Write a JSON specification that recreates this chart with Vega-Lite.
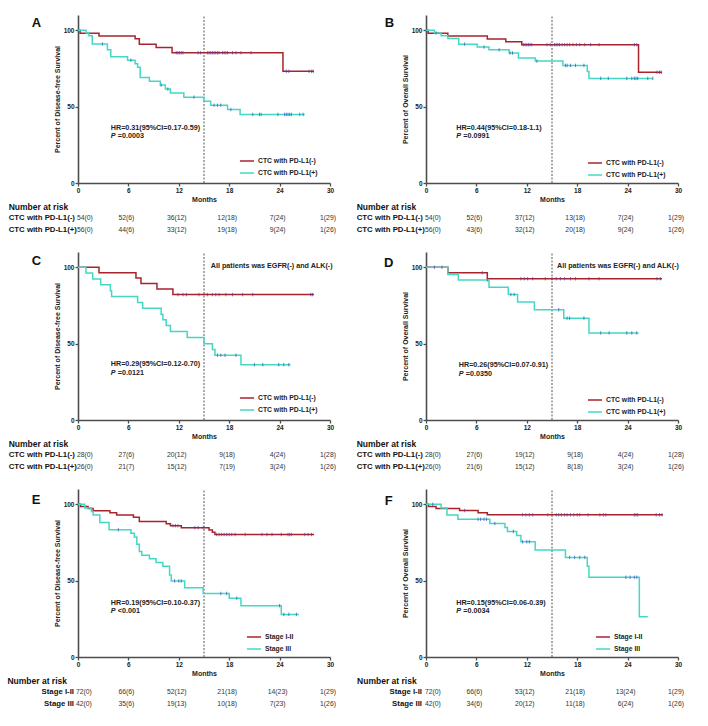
{
"$schema": "https://vega.github.io/schema/vega-lite/v6.json",
"background": "white",
"padding": {"left": 7, "top": 14, "right": 0, "bottom": 0},
"datasets": {
"curves": [
{"p":"A","g":"CTC with PD-L1(-)","t":0,"s":100},{"p":"A","g":"CTC with PD-L1(-)","t":0.25,"s":98.1},{"p":"A","g":"CTC with PD-L1(-)","t":2.5,"s":96.3},{"p":"A","g":"CTC with PD-L1(-)","t":6.8,"s":94.4},{"p":"A","g":"CTC with PD-L1(-)","t":7.3,"s":90.8},{"p":"A","g":"CTC with PD-L1(-)","t":9.3,"s":88.8},{"p":"A","g":"CTC with PD-L1(-)","t":11.2,"s":85.3},{"p":"A","g":"CTC with PD-L1(-)","t":24.4,"s":73.1},{"p":"A","g":"CTC with PD-L1(-)","t":28.1,"s":73.1},
{"p":"A","g":"CTC with PD-L1(+)","t":0,"s":100},{"p":"A","g":"CTC with PD-L1(+)","t":0.95,"s":98.2},{"p":"A","g":"CTC with PD-L1(+)","t":1.3,"s":96.4},{"p":"A","g":"CTC with PD-L1(+)","t":1.7,"s":91.0},{"p":"A","g":"CTC with PD-L1(+)","t":3.5,"s":87.3},{"p":"A","g":"CTC with PD-L1(+)","t":3.9,"s":82.7},{"p":"A","g":"CTC with PD-L1(+)","t":5.9,"s":80.4},{"p":"A","g":"CTC with PD-L1(+)","t":6.8,"s":78.1},{"p":"A","g":"CTC with PD-L1(+)","t":7.1,"s":75.8},{"p":"A","g":"CTC with PD-L1(+)","t":7.4,"s":69.0},{"p":"A","g":"CTC with PD-L1(+)","t":8.5,"s":66.7},{"p":"A","g":"CTC with PD-L1(+)","t":9.8,"s":64.1},{"p":"A","g":"CTC with PD-L1(+)","t":10.4,"s":61.5},{"p":"A","g":"CTC with PD-L1(+)","t":11.0,"s":59.0},{"p":"A","g":"CTC with PD-L1(+)","t":12.6,"s":56.2},{"p":"A","g":"CTC with PD-L1(+)","t":15.0,"s":53.5},{"p":"A","g":"CTC with PD-L1(+)","t":15.8,"s":50.9},{"p":"A","g":"CTC with PD-L1(+)","t":17.8,"s":48.1},{"p":"A","g":"CTC with PD-L1(+)","t":19.3,"s":44.9},{"p":"A","g":"CTC with PD-L1(+)","t":27.0,"s":44.9},
{"p":"B","g":"CTC with PD-L1(-)","t":0,"s":100},{"p":"B","g":"CTC with PD-L1(-)","t":0.25,"s":98.1},{"p":"B","g":"CTC with PD-L1(-)","t":2.6,"s":96.2},{"p":"B","g":"CTC with PD-L1(-)","t":7.3,"s":94.3},{"p":"B","g":"CTC with PD-L1(-)","t":9.5,"s":92.5},{"p":"B","g":"CTC with PD-L1(-)","t":11.4,"s":90.6},{"p":"B","g":"CTC with PD-L1(-)","t":25.3,"s":72.5},{"p":"B","g":"CTC with PD-L1(-)","t":28.1,"s":72.5},
{"p":"B","g":"CTC with PD-L1(+)","t":0,"s":100},{"p":"B","g":"CTC with PD-L1(+)","t":1.0,"s":98.2},{"p":"B","g":"CTC with PD-L1(+)","t":1.8,"s":96.4},{"p":"B","g":"CTC with PD-L1(+)","t":2.6,"s":94.6},{"p":"B","g":"CTC with PD-L1(+)","t":3.9,"s":90.9},{"p":"B","g":"CTC with PD-L1(+)","t":6.1,"s":89.0},{"p":"B","g":"CTC with PD-L1(+)","t":7.5,"s":87.2},{"p":"B","g":"CTC with PD-L1(+)","t":9.9,"s":85.1},{"p":"B","g":"CTC with PD-L1(+)","t":11.0,"s":81.8},{"p":"B","g":"CTC with PD-L1(+)","t":13.0,"s":79.8},{"p":"B","g":"CTC with PD-L1(+)","t":16.3,"s":77.0},{"p":"B","g":"CTC with PD-L1(+)","t":19.2,"s":73.0},{"p":"B","g":"CTC with PD-L1(+)","t":19.4,"s":68.5},{"p":"B","g":"CTC with PD-L1(+)","t":27.0,"s":68.5},
{"p":"C","g":"CTC with PD-L1(-)","t":0,"s":100},{"p":"C","g":"CTC with PD-L1(-)","t":2.5,"s":96.4},{"p":"C","g":"CTC with PD-L1(-)","t":6.9,"s":92.9},{"p":"C","g":"CTC with PD-L1(-)","t":7.5,"s":89.3},{"p":"C","g":"CTC with PD-L1(-)","t":9.4,"s":85.7},{"p":"C","g":"CTC with PD-L1(-)","t":11.3,"s":82.1},{"p":"C","g":"CTC with PD-L1(-)","t":28.1,"s":82.1},
{"p":"C","g":"CTC with PD-L1(+)","t":0,"s":100},{"p":"C","g":"CTC with PD-L1(+)","t":0.95,"s":96.2},{"p":"C","g":"CTC with PD-L1(+)","t":1.75,"s":92.3},{"p":"C","g":"CTC with PD-L1(+)","t":2.7,"s":88.5},{"p":"C","g":"CTC with PD-L1(+)","t":3.85,"s":84.6},{"p":"C","g":"CTC with PD-L1(+)","t":4.0,"s":80.8},{"p":"C","g":"CTC with PD-L1(+)","t":7.1,"s":76.9},{"p":"C","g":"CTC with PD-L1(+)","t":7.7,"s":73.1},{"p":"C","g":"CTC with PD-L1(+)","t":9.9,"s":69.2},{"p":"C","g":"CTC with PD-L1(+)","t":10.1,"s":65.6},{"p":"C","g":"CTC with PD-L1(+)","t":10.5,"s":61.8},{"p":"C","g":"CTC with PD-L1(+)","t":11.0,"s":57.9},{"p":"C","g":"CTC with PD-L1(+)","t":13.0,"s":54.1},{"p":"C","g":"CTC with PD-L1(+)","t":15.0,"s":50.0},{"p":"C","g":"CTC with PD-L1(+)","t":16.0,"s":46.1},{"p":"C","g":"CTC with PD-L1(+)","t":16.3,"s":42.4},{"p":"C","g":"CTC with PD-L1(+)","t":19.4,"s":36.2},{"p":"C","g":"CTC with PD-L1(+)","t":25.3,"s":36.2},
{"p":"D","g":"CTC with PD-L1(-)","t":0,"s":100},{"p":"D","g":"CTC with PD-L1(-)","t":2.6,"s":96.4},{"p":"D","g":"CTC with PD-L1(-)","t":7.3,"s":92.5},{"p":"D","g":"CTC with PD-L1(-)","t":28.1,"s":92.5},
{"p":"D","g":"CTC with PD-L1(+)","t":0,"s":100},{"p":"D","g":"CTC with PD-L1(+)","t":2.6,"s":95.2},{"p":"D","g":"CTC with PD-L1(+)","t":3.85,"s":91.7},{"p":"D","g":"CTC with PD-L1(+)","t":7.5,"s":87.0},{"p":"D","g":"CTC with PD-L1(+)","t":9.8,"s":82.2},{"p":"D","g":"CTC with PD-L1(+)","t":10.9,"s":77.2},{"p":"D","g":"CTC with PD-L1(+)","t":12.9,"s":72.2},{"p":"D","g":"CTC with PD-L1(+)","t":16.4,"s":66.7},{"p":"D","g":"CTC with PD-L1(+)","t":19.4,"s":57.0},{"p":"D","g":"CTC with PD-L1(+)","t":25.3,"s":57.0},
{"p":"E","g":"Stage I-II","t":0,"s":100},{"p":"E","g":"Stage I-II","t":0.3,"s":98.6},{"p":"E","g":"Stage I-II","t":1.2,"s":97.2},{"p":"E","g":"Stage I-II","t":1.8,"s":95.8},{"p":"E","g":"Stage I-II","t":3.8,"s":94.4},{"p":"E","g":"Stage I-II","t":4.6,"s":92.9},{"p":"E","g":"Stage I-II","t":6.6,"s":91.5},{"p":"E","g":"Stage I-II","t":7.3,"s":88.7},{"p":"E","g":"Stage I-II","t":10.5,"s":87.3},{"p":"E","g":"Stage I-II","t":11.0,"s":86.0},{"p":"E","g":"Stage I-II","t":12.3,"s":84.7},{"p":"E","g":"Stage I-II","t":15.6,"s":83.2},{"p":"E","g":"Stage I-II","t":16.0,"s":81.7},{"p":"E","g":"Stage I-II","t":16.3,"s":80.2},{"p":"E","g":"Stage I-II","t":28.1,"s":80.2},
{"p":"E","g":"Stage III","t":0,"s":100},{"p":"E","g":"Stage III","t":0.8,"s":97.6},{"p":"E","g":"Stage III","t":1.6,"s":95.2},{"p":"E","g":"Stage III","t":1.8,"s":92.9},{"p":"E","g":"Stage III","t":2.6,"s":88.1},{"p":"E","g":"Stage III","t":3.7,"s":83.3},{"p":"E","g":"Stage III","t":6.3,"s":81.0},{"p":"E","g":"Stage III","t":6.7,"s":78.6},{"p":"E","g":"Stage III","t":7.0,"s":73.8},{"p":"E","g":"Stage III","t":7.3,"s":69.0},{"p":"E","g":"Stage III","t":7.6,"s":66.7},{"p":"E","g":"Stage III","t":8.5,"s":64.3},{"p":"E","g":"Stage III","t":9.3,"s":61.9},{"p":"E","g":"Stage III","t":10.1,"s":59.5},{"p":"E","g":"Stage III","t":10.9,"s":53.7},{"p":"E","g":"Stage III","t":11.1,"s":49.8},{"p":"E","g":"Stage III","t":12.7,"s":45.4},{"p":"E","g":"Stage III","t":14.9,"s":41.6},{"p":"E","g":"Stage III","t":18.0,"s":38.5},{"p":"E","g":"Stage III","t":19.4,"s":33.6},{"p":"E","g":"Stage III","t":24.2,"s":27.9},{"p":"E","g":"Stage III","t":26.3,"s":27.9},
{"p":"F","g":"Stage I-II","t":0,"s":100},{"p":"F","g":"Stage I-II","t":0.3,"s":98.6},{"p":"F","g":"Stage I-II","t":1.2,"s":97.2},{"p":"F","g":"Stage I-II","t":4.0,"s":95.9},{"p":"F","g":"Stage I-II","t":6.2,"s":94.5},{"p":"F","g":"Stage I-II","t":7.3,"s":93.1},{"p":"F","g":"Stage I-II","t":28.2,"s":93.1},
{"p":"F","g":"Stage III","t":0,"s":100},{"p":"F","g":"Stage III","t":1.8,"s":97.6},{"p":"F","g":"Stage III","t":2.5,"s":92.9},{"p":"F","g":"Stage III","t":3.8,"s":90.2},{"p":"F","g":"Stage III","t":7.6,"s":87.4},{"p":"F","g":"Stage III","t":9.4,"s":84.8},{"p":"F","g":"Stage III","t":9.7,"s":82.2},{"p":"F","g":"Stage III","t":10.8,"s":79.5},{"p":"F","g":"Stage III","t":11.3,"s":75.5},{"p":"F","g":"Stage III","t":13.0,"s":70.0},{"p":"F","g":"Stage III","t":16.6,"s":65.2},{"p":"F","g":"Stage III","t":19.2,"s":59.5},{"p":"F","g":"Stage III","t":19.4,"s":52.2},{"p":"F","g":"Stage III","t":25.4,"s":26.4},{"p":"F","g":"Stage III","t":26.4,"s":26.4}
],
"censors": [
{"p":"A","g":"CTC with PD-L1(-)","t":11.7,"s":85.3},{"p":"A","g":"CTC with PD-L1(-)","t":11.9,"s":85.3},{"p":"A","g":"CTC with PD-L1(-)","t":12.1,"s":85.3},{"p":"A","g":"CTC with PD-L1(-)","t":12.3,"s":85.3},{"p":"A","g":"CTC with PD-L1(-)","t":12.5,"s":85.3},{"p":"A","g":"CTC with PD-L1(-)","t":14.3,"s":85.3},{"p":"A","g":"CTC with PD-L1(-)","t":14.6,"s":85.3},{"p":"A","g":"CTC with PD-L1(-)","t":15.4,"s":85.3},{"p":"A","g":"CTC with PD-L1(-)","t":15.6,"s":85.3},{"p":"A","g":"CTC with PD-L1(-)","t":15.8,"s":85.3},{"p":"A","g":"CTC with PD-L1(-)","t":16.0,"s":85.3},{"p":"A","g":"CTC with PD-L1(-)","t":16.2,"s":85.3},{"p":"A","g":"CTC with PD-L1(-)","t":16.4,"s":85.3},{"p":"A","g":"CTC with PD-L1(-)","t":16.6,"s":85.3},{"p":"A","g":"CTC with PD-L1(-)","t":16.8,"s":85.3},{"p":"A","g":"CTC with PD-L1(-)","t":17.2,"s":85.3},{"p":"A","g":"CTC with PD-L1(-)","t":17.4,"s":85.3},{"p":"A","g":"CTC with PD-L1(-)","t":17.6,"s":85.3},{"p":"A","g":"CTC with PD-L1(-)","t":17.8,"s":85.3},{"p":"A","g":"CTC with PD-L1(-)","t":18.4,"s":85.3},{"p":"A","g":"CTC with PD-L1(-)","t":18.8,"s":85.3},{"p":"A","g":"CTC with PD-L1(-)","t":19.4,"s":85.3},{"p":"A","g":"CTC with PD-L1(-)","t":20.6,"s":85.3},{"p":"A","g":"CTC with PD-L1(-)","t":24.8,"s":73.1},{"p":"A","g":"CTC with PD-L1(-)","t":25.1,"s":73.1},{"p":"A","g":"CTC with PD-L1(-)","t":27.5,"s":73.1},{"p":"A","g":"CTC with PD-L1(-)","t":27.8,"s":73.1},{"p":"A","g":"CTC with PD-L1(-)","t":28.0,"s":73.1},
{"p":"A","g":"CTC with PD-L1(+)","t":2.9,"s":91.0},{"p":"A","g":"CTC with PD-L1(+)","t":6.3,"s":80.4},{"p":"A","g":"CTC with PD-L1(+)","t":9.9,"s":64.1},{"p":"A","g":"CTC with PD-L1(+)","t":10.7,"s":61.5},{"p":"A","g":"CTC with PD-L1(+)","t":13.8,"s":56.2},{"p":"A","g":"CTC with PD-L1(+)","t":16.2,"s":50.9},{"p":"A","g":"CTC with PD-L1(+)","t":16.6,"s":50.9},{"p":"A","g":"CTC with PD-L1(+)","t":17.0,"s":50.9},{"p":"A","g":"CTC with PD-L1(+)","t":18.2,"s":48.1},{"p":"A","g":"CTC with PD-L1(+)","t":20.8,"s":44.9},{"p":"A","g":"CTC with PD-L1(+)","t":21.6,"s":44.9},{"p":"A","g":"CTC with PD-L1(+)","t":21.8,"s":44.9},{"p":"A","g":"CTC with PD-L1(+)","t":23.8,"s":44.9},{"p":"A","g":"CTC with PD-L1(+)","t":24.6,"s":44.9},{"p":"A","g":"CTC with PD-L1(+)","t":24.8,"s":44.9},{"p":"A","g":"CTC with PD-L1(+)","t":25.0,"s":44.9},{"p":"A","g":"CTC with PD-L1(+)","t":25.2,"s":44.9},{"p":"A","g":"CTC with PD-L1(+)","t":25.4,"s":44.9},{"p":"A","g":"CTC with PD-L1(+)","t":26.4,"s":44.9},{"p":"A","g":"CTC with PD-L1(+)","t":26.8,"s":44.9},
{"p":"B","g":"CTC with PD-L1(-)","t":11.6,"s":90.6},{"p":"B","g":"CTC with PD-L1(-)","t":11.8,"s":90.6},{"p":"B","g":"CTC with PD-L1(-)","t":12.0,"s":90.6},{"p":"B","g":"CTC with PD-L1(-)","t":12.2,"s":90.6},{"p":"B","g":"CTC with PD-L1(-)","t":12.4,"s":90.6},{"p":"B","g":"CTC with PD-L1(-)","t":12.6,"s":90.6},{"p":"B","g":"CTC with PD-L1(-)","t":14.4,"s":90.6},{"p":"B","g":"CTC with PD-L1(-)","t":14.8,"s":90.6},{"p":"B","g":"CTC with PD-L1(-)","t":15.3,"s":90.6},{"p":"B","g":"CTC with PD-L1(-)","t":15.5,"s":90.6},{"p":"B","g":"CTC with PD-L1(-)","t":15.7,"s":90.6},{"p":"B","g":"CTC with PD-L1(-)","t":15.9,"s":90.6},{"p":"B","g":"CTC with PD-L1(-)","t":16.2,"s":90.6},{"p":"B","g":"CTC with PD-L1(-)","t":16.5,"s":90.6},{"p":"B","g":"CTC with PD-L1(-)","t":16.8,"s":90.6},{"p":"B","g":"CTC with PD-L1(-)","t":17.1,"s":90.6},{"p":"B","g":"CTC with PD-L1(-)","t":17.5,"s":90.6},{"p":"B","g":"CTC with PD-L1(-)","t":17.9,"s":90.6},{"p":"B","g":"CTC with PD-L1(-)","t":18.3,"s":90.6},{"p":"B","g":"CTC with PD-L1(-)","t":18.9,"s":90.6},{"p":"B","g":"CTC with PD-L1(-)","t":19.6,"s":90.6},{"p":"B","g":"CTC with PD-L1(-)","t":20.6,"s":90.6},{"p":"B","g":"CTC with PD-L1(-)","t":24.8,"s":90.6},{"p":"B","g":"CTC with PD-L1(-)","t":25.1,"s":90.6},{"p":"B","g":"CTC with PD-L1(-)","t":27.5,"s":72.5},{"p":"B","g":"CTC with PD-L1(-)","t":27.8,"s":72.5},{"p":"B","g":"CTC with PD-L1(-)","t":28.0,"s":72.5},
{"p":"B","g":"CTC with PD-L1(+)","t":1.2,"s":98.2},{"p":"B","g":"CTC with PD-L1(+)","t":4.6,"s":90.9},{"p":"B","g":"CTC with PD-L1(+)","t":6.9,"s":89.0},{"p":"B","g":"CTC with PD-L1(+)","t":8.7,"s":87.2},{"p":"B","g":"CTC with PD-L1(+)","t":10.0,"s":85.1},{"p":"B","g":"CTC with PD-L1(+)","t":10.3,"s":85.1},{"p":"B","g":"CTC with PD-L1(+)","t":13.2,"s":79.8},{"p":"B","g":"CTC with PD-L1(+)","t":16.6,"s":77.0},{"p":"B","g":"CTC with PD-L1(+)","t":16.8,"s":77.0},{"p":"B","g":"CTC with PD-L1(+)","t":17.2,"s":77.0},{"p":"B","g":"CTC with PD-L1(+)","t":17.8,"s":77.0},{"p":"B","g":"CTC with PD-L1(+)","t":18.8,"s":77.0},{"p":"B","g":"CTC with PD-L1(+)","t":20.8,"s":68.5},{"p":"B","g":"CTC with PD-L1(+)","t":21.7,"s":68.5},{"p":"B","g":"CTC with PD-L1(+)","t":23.9,"s":68.5},{"p":"B","g":"CTC with PD-L1(+)","t":24.5,"s":68.5},{"p":"B","g":"CTC with PD-L1(+)","t":24.8,"s":68.5},{"p":"B","g":"CTC with PD-L1(+)","t":25.0,"s":68.5},{"p":"B","g":"CTC with PD-L1(+)","t":25.2,"s":68.5},{"p":"B","g":"CTC with PD-L1(+)","t":26.4,"s":68.5},{"p":"B","g":"CTC with PD-L1(+)","t":27.0,"s":68.5},
{"p":"C","g":"CTC with PD-L1(-)","t":11.9,"s":82.1},{"p":"C","g":"CTC with PD-L1(-)","t":12.5,"s":82.1},{"p":"C","g":"CTC with PD-L1(-)","t":12.9,"s":82.1},{"p":"C","g":"CTC with PD-L1(-)","t":14.4,"s":82.1},{"p":"C","g":"CTC with PD-L1(-)","t":15.4,"s":82.1},{"p":"C","g":"CTC with PD-L1(-)","t":16.0,"s":82.1},{"p":"C","g":"CTC with PD-L1(-)","t":16.4,"s":82.1},{"p":"C","g":"CTC with PD-L1(-)","t":16.8,"s":82.1},{"p":"C","g":"CTC with PD-L1(-)","t":17.6,"s":82.1},{"p":"C","g":"CTC with PD-L1(-)","t":18.4,"s":82.1},{"p":"C","g":"CTC with PD-L1(-)","t":19.6,"s":82.1},{"p":"C","g":"CTC with PD-L1(-)","t":20.8,"s":82.1},{"p":"C","g":"CTC with PD-L1(-)","t":27.7,"s":82.1},{"p":"C","g":"CTC with PD-L1(-)","t":27.9,"s":82.1},
{"p":"C","g":"CTC with PD-L1(+)","t":16.6,"s":42.4},{"p":"C","g":"CTC with PD-L1(+)","t":17.0,"s":42.4},{"p":"C","g":"CTC with PD-L1(+)","t":17.5,"s":42.4},{"p":"C","g":"CTC with PD-L1(+)","t":18.8,"s":42.4},{"p":"C","g":"CTC with PD-L1(+)","t":21.0,"s":36.2},{"p":"C","g":"CTC with PD-L1(+)","t":22.0,"s":36.2},{"p":"C","g":"CTC with PD-L1(+)","t":23.9,"s":36.2},{"p":"C","g":"CTC with PD-L1(+)","t":24.5,"s":36.2},{"p":"C","g":"CTC with PD-L1(+)","t":25.1,"s":36.2},
{"p":"D","g":"CTC with PD-L1(-)","t":1.0,"s":100},{"p":"D","g":"CTC with PD-L1(-)","t":1.9,"s":100},{"p":"D","g":"CTC with PD-L1(-)","t":6.7,"s":96.4},{"p":"D","g":"CTC with PD-L1(-)","t":11.3,"s":92.5},{"p":"D","g":"CTC with PD-L1(-)","t":11.7,"s":92.5},{"p":"D","g":"CTC with PD-L1(-)","t":12.1,"s":92.5},{"p":"D","g":"CTC with PD-L1(-)","t":12.7,"s":92.5},{"p":"D","g":"CTC with PD-L1(-)","t":14.2,"s":92.5},{"p":"D","g":"CTC with PD-L1(-)","t":15.0,"s":92.5},{"p":"D","g":"CTC with PD-L1(-)","t":15.5,"s":92.5},{"p":"D","g":"CTC with PD-L1(-)","t":16.0,"s":92.5},{"p":"D","g":"CTC with PD-L1(-)","t":16.5,"s":92.5},{"p":"D","g":"CTC with PD-L1(-)","t":17.2,"s":92.5},{"p":"D","g":"CTC with PD-L1(-)","t":17.8,"s":92.5},{"p":"D","g":"CTC with PD-L1(-)","t":19.4,"s":92.5},{"p":"D","g":"CTC with PD-L1(-)","t":20.6,"s":92.5},{"p":"D","g":"CTC with PD-L1(-)","t":27.5,"s":92.5},{"p":"D","g":"CTC with PD-L1(-)","t":27.9,"s":92.5},
{"p":"D","g":"CTC with PD-L1(+)","t":7.3,"s":91.7},{"p":"D","g":"CTC with PD-L1(+)","t":10.1,"s":82.2},{"p":"D","g":"CTC with PD-L1(+)","t":10.5,"s":82.2},{"p":"D","g":"CTC with PD-L1(+)","t":15.8,"s":72.2},{"p":"D","g":"CTC with PD-L1(+)","t":16.8,"s":66.7},{"p":"D","g":"CTC with PD-L1(+)","t":17.1,"s":66.7},{"p":"D","g":"CTC with PD-L1(+)","t":18.8,"s":66.7},{"p":"D","g":"CTC with PD-L1(+)","t":20.8,"s":57.0},{"p":"D","g":"CTC with PD-L1(+)","t":21.8,"s":57.0},{"p":"D","g":"CTC with PD-L1(+)","t":23.9,"s":57.0},{"p":"D","g":"CTC with PD-L1(+)","t":24.5,"s":57.0},{"p":"D","g":"CTC with PD-L1(+)","t":25.1,"s":57.0},
{"p":"E","g":"Stage I-II","t":11.3,"s":86.0},{"p":"E","g":"Stage I-II","t":11.6,"s":86.0},{"p":"E","g":"Stage I-II","t":11.9,"s":86.0},{"p":"E","g":"Stage I-II","t":13.9,"s":84.7},{"p":"E","g":"Stage I-II","t":14.3,"s":84.7},{"p":"E","g":"Stage I-II","t":14.9,"s":84.7},{"p":"E","g":"Stage I-II","t":16.5,"s":80.2},{"p":"E","g":"Stage I-II","t":16.8,"s":80.2},{"p":"E","g":"Stage I-II","t":17.1,"s":80.2},{"p":"E","g":"Stage I-II","t":17.4,"s":80.2},{"p":"E","g":"Stage I-II","t":17.7,"s":80.2},{"p":"E","g":"Stage I-II","t":18.0,"s":80.2},{"p":"E","g":"Stage I-II","t":18.3,"s":80.2},{"p":"E","g":"Stage I-II","t":18.7,"s":80.2},{"p":"E","g":"Stage I-II","t":19.9,"s":80.2},{"p":"E","g":"Stage I-II","t":21.9,"s":80.2},{"p":"E","g":"Stage I-II","t":22.5,"s":80.2},{"p":"E","g":"Stage I-II","t":23.1,"s":80.2},{"p":"E","g":"Stage I-II","t":24.2,"s":80.2},{"p":"E","g":"Stage I-II","t":25.0,"s":80.2},{"p":"E","g":"Stage I-II","t":25.2,"s":80.2},{"p":"E","g":"Stage I-II","t":25.4,"s":80.2},{"p":"E","g":"Stage I-II","t":27.0,"s":80.2},{"p":"E","g":"Stage I-II","t":27.4,"s":80.2},{"p":"E","g":"Stage I-II","t":27.8,"s":80.2},
{"p":"E","g":"Stage III","t":4.8,"s":83.3},{"p":"E","g":"Stage III","t":11.5,"s":49.8},{"p":"E","g":"Stage III","t":12.0,"s":49.8},{"p":"E","g":"Stage III","t":12.3,"s":49.8},{"p":"E","g":"Stage III","t":17.0,"s":41.6},{"p":"E","g":"Stage III","t":17.7,"s":41.6},{"p":"E","g":"Stage III","t":18.9,"s":38.5},{"p":"E","g":"Stage III","t":24.0,"s":33.6},{"p":"E","g":"Stage III","t":24.5,"s":27.9},{"p":"E","g":"Stage III","t":25.1,"s":27.9},{"p":"E","g":"Stage III","t":26.0,"s":27.9},
{"p":"F","g":"Stage I-II","t":4.6,"s":95.9},{"p":"F","g":"Stage I-II","t":11.5,"s":93.1},{"p":"F","g":"Stage I-II","t":11.9,"s":93.1},{"p":"F","g":"Stage I-II","t":12.3,"s":93.1},{"p":"F","g":"Stage I-II","t":12.7,"s":93.1},{"p":"F","g":"Stage I-II","t":14.5,"s":93.1},{"p":"F","g":"Stage I-II","t":15.5,"s":93.1},{"p":"F","g":"Stage I-II","t":15.8,"s":93.1},{"p":"F","g":"Stage I-II","t":16.1,"s":93.1},{"p":"F","g":"Stage I-II","t":16.5,"s":93.1},{"p":"F","g":"Stage I-II","t":16.8,"s":93.1},{"p":"F","g":"Stage I-II","t":17.2,"s":93.1},{"p":"F","g":"Stage I-II","t":17.6,"s":93.1},{"p":"F","g":"Stage I-II","t":18.0,"s":93.1},{"p":"F","g":"Stage I-II","t":18.3,"s":93.1},{"p":"F","g":"Stage I-II","t":19.3,"s":93.1},{"p":"F","g":"Stage I-II","t":20.7,"s":93.1},{"p":"F","g":"Stage I-II","t":21.1,"s":93.1},{"p":"F","g":"Stage I-II","t":21.4,"s":93.1},{"p":"F","g":"Stage I-II","t":24.8,"s":93.1},{"p":"F","g":"Stage I-II","t":25.0,"s":93.1},{"p":"F","g":"Stage I-II","t":25.2,"s":93.1},{"p":"F","g":"Stage I-II","t":27.4,"s":93.1},{"p":"F","g":"Stage I-II","t":27.8,"s":93.1},{"p":"F","g":"Stage I-II","t":28.1,"s":93.1},
{"p":"F","g":"Stage III","t":0.8,"s":100},{"p":"F","g":"Stage III","t":6.2,"s":90.2},{"p":"F","g":"Stage III","t":6.5,"s":90.2},{"p":"F","g":"Stage III","t":6.9,"s":90.2},{"p":"F","g":"Stage III","t":7.2,"s":90.2},{"p":"F","g":"Stage III","t":8.2,"s":87.4},{"p":"F","g":"Stage III","t":10.4,"s":82.2},{"p":"F","g":"Stage III","t":11.5,"s":75.5},{"p":"F","g":"Stage III","t":12.0,"s":75.5},{"p":"F","g":"Stage III","t":12.3,"s":75.5},{"p":"F","g":"Stage III","t":17.1,"s":65.2},{"p":"F","g":"Stage III","t":17.7,"s":65.2},{"p":"F","g":"Stage III","t":18.3,"s":65.2},{"p":"F","g":"Stage III","t":18.9,"s":65.2},{"p":"F","g":"Stage III","t":23.8,"s":52.2},{"p":"F","g":"Stage III","t":24.3,"s":52.2},{"p":"F","g":"Stage III","t":24.8,"s":52.2},{"p":"F","g":"Stage III","t":25.1,"s":52.2}
],
"risk": [
{"p":"A","r":1,"lab":"CTC with PD-L1(-)","t":0,"v":"54(0)"},{"p":"A","r":1,"lab":"CTC with PD-L1(-)","t":6,"v":"52(6)"},{"p":"A","r":1,"lab":"CTC with PD-L1(-)","t":12,"v":"36(12)"},{"p":"A","r":1,"lab":"CTC with PD-L1(-)","t":18,"v":"12(18)"},{"p":"A","r":1,"lab":"CTC with PD-L1(-)","t":24,"v":"7(24)"},{"p":"A","r":1,"lab":"CTC with PD-L1(-)","t":30,"v":"1(29)"},
{"p":"A","r":2,"lab":"CTC with PD-L1(+)","t":0,"v":"56(0)"},{"p":"A","r":2,"lab":"CTC with PD-L1(+)","t":6,"v":"44(6)"},{"p":"A","r":2,"lab":"CTC with PD-L1(+)","t":12,"v":"33(12)"},{"p":"A","r":2,"lab":"CTC with PD-L1(+)","t":18,"v":"19(18)"},{"p":"A","r":2,"lab":"CTC with PD-L1(+)","t":24,"v":"9(24)"},{"p":"A","r":2,"lab":"CTC with PD-L1(+)","t":30,"v":"1(26)"},
{"p":"B","r":1,"lab":"CTC with PD-L1(-)","t":0,"v":"54(0)"},{"p":"B","r":1,"lab":"CTC with PD-L1(-)","t":6,"v":"52(6)"},{"p":"B","r":1,"lab":"CTC with PD-L1(-)","t":12,"v":"37(12)"},{"p":"B","r":1,"lab":"CTC with PD-L1(-)","t":18,"v":"13(18)"},{"p":"B","r":1,"lab":"CTC with PD-L1(-)","t":24,"v":"7(24)"},{"p":"B","r":1,"lab":"CTC with PD-L1(-)","t":30,"v":"1(29)"},
{"p":"B","r":2,"lab":"CTC with PD-L1(+)","t":0,"v":"56(0)"},{"p":"B","r":2,"lab":"CTC with PD-L1(+)","t":6,"v":"43(6)"},{"p":"B","r":2,"lab":"CTC with PD-L1(+)","t":12,"v":"32(12)"},{"p":"B","r":2,"lab":"CTC with PD-L1(+)","t":18,"v":"20(18)"},{"p":"B","r":2,"lab":"CTC with PD-L1(+)","t":24,"v":"9(24)"},{"p":"B","r":2,"lab":"CTC with PD-L1(+)","t":30,"v":"1(26)"},
{"p":"C","r":1,"lab":"CTC with PD-L1(-)","t":0,"v":"28(0)"},{"p":"C","r":1,"lab":"CTC with PD-L1(-)","t":6,"v":"27(6)"},{"p":"C","r":1,"lab":"CTC with PD-L1(-)","t":12,"v":"20(12)"},{"p":"C","r":1,"lab":"CTC with PD-L1(-)","t":18,"v":"9(18)"},{"p":"C","r":1,"lab":"CTC with PD-L1(-)","t":24,"v":"4(24)"},{"p":"C","r":1,"lab":"CTC with PD-L1(-)","t":30,"v":"1(28)"},
{"p":"C","r":2,"lab":"CTC with PD-L1(+)","t":0,"v":"26(0)"},{"p":"C","r":2,"lab":"CTC with PD-L1(+)","t":6,"v":"21(7)"},{"p":"C","r":2,"lab":"CTC with PD-L1(+)","t":12,"v":"15(12)"},{"p":"C","r":2,"lab":"CTC with PD-L1(+)","t":18,"v":"7(19)"},{"p":"C","r":2,"lab":"CTC with PD-L1(+)","t":24,"v":"3(24)"},{"p":"C","r":2,"lab":"CTC with PD-L1(+)","t":30,"v":"1(26)"},
{"p":"D","r":1,"lab":"CTC with PD-L1(-)","t":0,"v":"28(0)"},{"p":"D","r":1,"lab":"CTC with PD-L1(-)","t":6,"v":"27(6)"},{"p":"D","r":1,"lab":"CTC with PD-L1(-)","t":12,"v":"19(12)"},{"p":"D","r":1,"lab":"CTC with PD-L1(-)","t":18,"v":"9(18)"},{"p":"D","r":1,"lab":"CTC with PD-L1(-)","t":24,"v":"4(24)"},{"p":"D","r":1,"lab":"CTC with PD-L1(-)","t":30,"v":"1(28)"},
{"p":"D","r":2,"lab":"CTC with PD-L1(+)","t":0,"v":"26(0)"},{"p":"D","r":2,"lab":"CTC with PD-L1(+)","t":6,"v":"21(6)"},{"p":"D","r":2,"lab":"CTC with PD-L1(+)","t":12,"v":"15(12)"},{"p":"D","r":2,"lab":"CTC with PD-L1(+)","t":18,"v":"8(18)"},{"p":"D","r":2,"lab":"CTC with PD-L1(+)","t":24,"v":"3(24)"},{"p":"D","r":2,"lab":"CTC with PD-L1(+)","t":30,"v":"1(26)"},
{"p":"E","r":1,"lab":"Stage I-II","t":0,"v":"72(0)"},{"p":"E","r":1,"lab":"Stage I-II","t":6,"v":"66(6)"},{"p":"E","r":1,"lab":"Stage I-II","t":12,"v":"52(12)"},{"p":"E","r":1,"lab":"Stage I-II","t":18,"v":"21(18)"},{"p":"E","r":1,"lab":"Stage I-II","t":24,"v":"14(23)"},{"p":"E","r":1,"lab":"Stage I-II","t":30,"v":"1(29)"},
{"p":"E","r":2,"lab":"Stage III","t":0,"v":"42(0)"},{"p":"E","r":2,"lab":"Stage III","t":6,"v":"35(6)"},{"p":"E","r":2,"lab":"Stage III","t":12,"v":"19(13)"},{"p":"E","r":2,"lab":"Stage III","t":18,"v":"10(18)"},{"p":"E","r":2,"lab":"Stage III","t":24,"v":"7(23)"},{"p":"E","r":2,"lab":"Stage III","t":30,"v":"1(26)"},
{"p":"F","r":1,"lab":"Stage I-II","t":0,"v":"72(0)"},{"p":"F","r":1,"lab":"Stage I-II","t":6,"v":"66(6)"},{"p":"F","r":1,"lab":"Stage I-II","t":12,"v":"53(12)"},{"p":"F","r":1,"lab":"Stage I-II","t":18,"v":"21(18)"},{"p":"F","r":1,"lab":"Stage I-II","t":24,"v":"13(24)"},{"p":"F","r":1,"lab":"Stage I-II","t":30,"v":"1(29)"},
{"p":"F","r":2,"lab":"Stage III","t":0,"v":"42(0)"},{"p":"F","r":2,"lab":"Stage III","t":6,"v":"34(6)"},{"p":"F","r":2,"lab":"Stage III","t":12,"v":"20(12)"},{"p":"F","r":2,"lab":"Stage III","t":18,"v":"11(18)"},{"p":"F","r":2,"lab":"Stage III","t":24,"v":"6(24)"},{"p":"F","r":2,"lab":"Stage III","t":30,"v":"1(26)"}
]
},
"columns": 2,
"spacing": {"row": 69, "column": 96},
"bounds": "flush",
"resolve": {"scale": {"color": "independent", "stroke": "independent"}, "legend": {"color": "independent", "stroke": "independent"}},
"concat": [
{"width":252,"height":168,"layer":[
{"data":{"values":[{}]},"mark":{"type":"rule","strokeDash":[2,1.5],"color":"#555555","strokeWidth":1},"encoding":{"x":{"datum":15,"type":"quantitative","axis":{"values":[0,6,12,18,24,30],"title":"Months"}},"y":{"datum":0,"type":"quantitative","axis":{"values":[0,50,100],"title":"Percent of Disease-free Survival"}},"y2":{"datum":110}}},
{"data":{"name":"curves"},"transform":[{"filter":"datum.p=='A'"}],"mark":{"type":"line","interpolate":"step-after","strokeWidth":1.5},"encoding":{"x":{"field":"t","type":"quantitative","scale":{"domain":[0,30],"nice":false,"zero":false},"axis":{"values":[0,6,12,18,24,30],"title":"Months"}},"y":{"field":"s","type":"quantitative","scale":{"domain":[0,110],"nice":false,"zero":false},"axis":{"values":[0,50,100],"title":"Percent of Disease-free Survival"}},"color":{"field":"g","type":"nominal","scale":{"domain":["CTC with PD-L1(-)","CTC with PD-L1(+)"],"range":["#a8232c","#44d8c4"]},"legend":{"title":null,"orient":"none","legendX":161,"legendY":138}}}},
{"data":{"name":"censors"},"transform":[{"filter":"datum.p=='A'"}],"mark":{"type":"point","shape":"M0,-1L0,1","size":12,"strokeWidth":1,"filled":false},"encoding":{"x":{"field":"t","type":"quantitative","axis":{"values":[0,6,12,18,24,30],"title":"Months"}},"y":{"field":"s","type":"quantitative","axis":{"values":[0,50,100],"title":"Percent of Disease-free Survival"}},"stroke":{"field":"g","type":"nominal","scale":{"domain":["CTC with PD-L1(-)","CTC with PD-L1(+)"],"range":["#5a3da0","#3052c4"]},"legend":null}}},
{"data":{"values":[{"lt":"A","hr":"HR=0.31(95%CI=0.17-0.59)","pv":"=0.0003"}]},"mark":{"type":"text","align":"left","baseline":"middle","fontSize":13,"fontWeight":"bold","color":"#111111"},"encoding":{"x":{"datum":-5.5,"type":"quantitative","axis":{"values":[0,6,12,18,24,30],"title":"Months"}},"y":{"datum":104.8,"type":"quantitative","axis":{"values":[0,50,100],"title":"Percent of Disease-free Survival"}},"text":{"field":"lt"}}},
{"data":{"values":[{"lt":"A","hr":"HR=0.31(95%CI=0.17-0.59)","pv":"=0.0003"}]},"mark":{"type":"text","align":"left","baseline":"middle","fontSize":7.2,"fontWeight":"bold","color":"#222222"},"encoding":{"x":{"datum":3.9,"type":"quantitative","axis":{"values":[0,6,12,18,24,30],"title":"Months"}},"y":{"datum":36,"type":"quantitative","axis":{"values":[0,50,100],"title":"Percent of Disease-free Survival"}},"text":{"field":"hr"}}},
{"data":{"values":[{"lt":"A","hr":"HR=0.31(95%CI=0.17-0.59)","pv":"=0.0003"}]},"mark":{"type":"text","text":"P","align":"left","baseline":"middle","fontSize":7.2,"fontWeight":"bold","fontStyle":"italic","color":"#222222"},"encoding":{"x":{"datum":3.9,"type":"quantitative","axis":{"values":[0,6,12,18,24,30],"title":"Months"}},"y":{"datum":30.8,"type":"quantitative","axis":{"values":[0,50,100],"title":"Percent of Disease-free Survival"}}}},
{"data":{"values":[{"lt":"A","hr":"HR=0.31(95%CI=0.17-0.59)","pv":"=0.0003"}]},"mark":{"type":"text","align":"left","baseline":"middle","fontSize":7.2,"fontWeight":"bold","dx":7,"color":"#222222"},"encoding":{"x":{"datum":3.9,"type":"quantitative","axis":{"values":[0,6,12,18,24,30],"title":"Months"}},"y":{"datum":30.8,"type":"quantitative","axis":{"values":[0,50,100],"title":"Percent of Disease-free Survival"}},"text":{"field":"pv"}}},
{"data":{"values":[{}]},"mark":{"type":"text","text":"Number at risk","align":"left","baseline":"middle","fontSize":8.5,"fontWeight":"bold","color":"#111111"},"encoding":{"x":{"datum":-8.25,"type":"quantitative","axis":{"values":[0,6,12,18,24,30],"title":"Months"}},"y":{"datum":-15.5,"type":"quantitative","axis":{"values":[0,50,100],"title":"Percent of Disease-free Survival"}}}},
{"data":{"name":"risk"},"transform":[{"filter":"datum.p=='A' && datum.r==1 && datum.t==0"}],"mark":{"type":"text","align":"left","baseline":"middle","fontSize":7.8,"fontWeight":"bold","color":"#111111"},"encoding":{"x":{"datum":-8.25,"type":"quantitative","axis":{"values":[0,6,12,18,24,30],"title":"Months"}},"y":{"datum":-22.7,"type":"quantitative","axis":{"values":[0,50,100],"title":"Percent of Disease-free Survival"}},"text":{"field":"lab"}}},
{"data":{"name":"risk"},"transform":[{"filter":"datum.p=='A' && datum.r==2 && datum.t==0"}],"mark":{"type":"text","align":"left","baseline":"middle","fontSize":7.8,"fontWeight":"bold","color":"#111111"},"encoding":{"x":{"datum":-8.25,"type":"quantitative","axis":{"values":[0,6,12,18,24,30],"title":"Months"}},"y":{"datum":-30.5,"type":"quantitative","axis":{"values":[0,50,100],"title":"Percent of Disease-free Survival"}},"text":{"field":"lab"}}},
{"data":{"name":"risk"},"transform":[{"filter":"datum.p=='A' && datum.r==1 && datum.t==0"}],"mark":{"type":"text","align":"left","baseline":"middle","fontSize":6.8,"dx":-1,"color":"#333333"},"encoding":{"x":{"field":"t","type":"quantitative","axis":{"values":[0,6,12,18,24,30],"title":"Months"}},"y":{"datum":-22.7,"type":"quantitative","axis":{"values":[0,50,100],"title":"Percent of Disease-free Survival"}},"text":{"field":"v"}}},
{"data":{"name":"risk"},"transform":[{"filter":"datum.p=='A' && datum.r==2 && datum.t==0"}],"mark":{"type":"text","align":"left","baseline":"middle","fontSize":6.8,"dx":-1,"color":"#333333"},"encoding":{"x":{"field":"t","type":"quantitative","axis":{"values":[0,6,12,18,24,30],"title":"Months"}},"y":{"datum":-30.5,"type":"quantitative","axis":{"values":[0,50,100],"title":"Percent of Disease-free Survival"}},"text":{"field":"v"}}},
{"data":{"name":"risk"},"transform":[{"filter":"datum.p=='A' && datum.r==1 && datum.t>0"}],"mark":{"type":"text","align":"center","baseline":"middle","fontSize":6.8,"dx":-2,"color":"#333333"},"encoding":{"x":{"field":"t","type":"quantitative","axis":{"values":[0,6,12,18,24,30],"title":"Months"}},"y":{"datum":-22.7,"type":"quantitative","axis":{"values":[0,50,100],"title":"Percent of Disease-free Survival"}},"text":{"field":"v"}}},
{"data":{"name":"risk"},"transform":[{"filter":"datum.p=='A' && datum.r==2 && datum.t>0"}],"mark":{"type":"text","align":"center","baseline":"middle","fontSize":6.8,"dx":-2,"color":"#333333"},"encoding":{"x":{"field":"t","type":"quantitative","axis":{"values":[0,6,12,18,24,30],"title":"Months"}},"y":{"datum":-30.5,"type":"quantitative","axis":{"values":[0,50,100],"title":"Percent of Disease-free Survival"}},"text":{"field":"v"}}}
]},
{"width":252,"height":168,"layer":[
{"data":{"values":[{}]},"mark":{"type":"rule","strokeDash":[2,1.5],"color":"#555555","strokeWidth":1},"encoding":{"x":{"datum":15,"type":"quantitative","axis":{"values":[0,6,12,18,24,30],"title":"Months"}},"y":{"datum":0,"type":"quantitative","axis":{"values":[0,50,100],"title":"Percent of Overall Survival"}},"y2":{"datum":110}}},
{"data":{"name":"curves"},"transform":[{"filter":"datum.p=='B'"}],"mark":{"type":"line","interpolate":"step-after","strokeWidth":1.5},"encoding":{"x":{"field":"t","type":"quantitative","scale":{"domain":[0,30],"nice":false,"zero":false},"axis":{"values":[0,6,12,18,24,30],"title":"Months"}},"y":{"field":"s","type":"quantitative","scale":{"domain":[0,110],"nice":false,"zero":false},"axis":{"values":[0,50,100],"title":"Percent of Overall Survival"}},"color":{"field":"g","type":"nominal","scale":{"domain":["CTC with PD-L1(-)","CTC with PD-L1(+)"],"range":["#a8232c","#44d8c4"]},"legend":{"title":null,"orient":"none","legendX":161,"legendY":140}}}},
{"data":{"name":"censors"},"transform":[{"filter":"datum.p=='B'"}],"mark":{"type":"point","shape":"M0,-1L0,1","size":12,"strokeWidth":1,"filled":false},"encoding":{"x":{"field":"t","type":"quantitative","axis":{"values":[0,6,12,18,24,30],"title":"Months"}},"y":{"field":"s","type":"quantitative","axis":{"values":[0,50,100],"title":"Percent of Overall Survival"}},"stroke":{"field":"g","type":"nominal","scale":{"domain":["CTC with PD-L1(-)","CTC with PD-L1(+)"],"range":["#5a3da0","#3052c4"]},"legend":null}}},
{"data":{"values":[{"lt":"B","hr":"HR=0.44(95%CI=0.18-1.1)","pv":"=0.0991"}]},"mark":{"type":"text","align":"left","baseline":"middle","fontSize":13,"fontWeight":"bold","color":"#111111"},"encoding":{"x":{"datum":-4.9,"type":"quantitative","axis":{"values":[0,6,12,18,24,30],"title":"Months"}},"y":{"datum":105,"type":"quantitative","axis":{"values":[0,50,100],"title":"Percent of Overall Survival"}},"text":{"field":"lt"}}},
{"data":{"values":[{"lt":"B","hr":"HR=0.44(95%CI=0.18-1.1)","pv":"=0.0991"}]},"mark":{"type":"text","align":"left","baseline":"middle","fontSize":7.2,"fontWeight":"bold","color":"#222222"},"encoding":{"x":{"datum":3.6,"type":"quantitative","axis":{"values":[0,6,12,18,24,30],"title":"Months"}},"y":{"datum":36,"type":"quantitative","axis":{"values":[0,50,100],"title":"Percent of Overall Survival"}},"text":{"field":"hr"}}},
{"data":{"values":[{}]},"mark":{"type":"text","text":"P","align":"left","baseline":"middle","fontSize":7.2,"fontWeight":"bold","fontStyle":"italic","color":"#222222"},"encoding":{"x":{"datum":3.6,"type":"quantitative","axis":{"values":[0,6,12,18,24,30],"title":"Months"}},"y":{"datum":30.8,"type":"quantitative","axis":{"values":[0,50,100],"title":"Percent of Overall Survival"}}}},
{"data":{"values":[{"lt":"B","hr":"HR=0.44(95%CI=0.18-1.1)","pv":"=0.0991"}]},"mark":{"type":"text","align":"left","baseline":"middle","fontSize":7.2,"fontWeight":"bold","dx":7,"color":"#222222"},"encoding":{"x":{"datum":3.6,"type":"quantitative","axis":{"values":[0,6,12,18,24,30],"title":"Months"}},"y":{"datum":30.8,"type":"quantitative","axis":{"values":[0,50,100],"title":"Percent of Overall Survival"}},"text":{"field":"pv"}}},
{"data":{"values":[{}]},"mark":{"type":"text","text":"Number at risk","align":"left","baseline":"middle","fontSize":8.5,"fontWeight":"bold","color":"#111111"},"encoding":{"x":{"datum":-8.25,"type":"quantitative","axis":{"values":[0,6,12,18,24,30],"title":"Months"}},"y":{"datum":-15.5,"type":"quantitative","axis":{"values":[0,50,100],"title":"Percent of Overall Survival"}}}},
{"data":{"name":"risk"},"transform":[{"filter":"datum.p=='B' && datum.r==1 && datum.t==0"}],"mark":{"type":"text","align":"left","baseline":"middle","fontSize":7.8,"fontWeight":"bold","color":"#111111"},"encoding":{"x":{"datum":-8.25,"type":"quantitative","axis":{"values":[0,6,12,18,24,30],"title":"Months"}},"y":{"datum":-22.7,"type":"quantitative","axis":{"values":[0,50,100],"title":"Percent of Overall Survival"}},"text":{"field":"lab"}}},
{"data":{"name":"risk"},"transform":[{"filter":"datum.p=='B' && datum.r==2 && datum.t==0"}],"mark":{"type":"text","align":"left","baseline":"middle","fontSize":7.8,"fontWeight":"bold","color":"#111111"},"encoding":{"x":{"datum":-8.25,"type":"quantitative","axis":{"values":[0,6,12,18,24,30],"title":"Months"}},"y":{"datum":-30.5,"type":"quantitative","axis":{"values":[0,50,100],"title":"Percent of Overall Survival"}},"text":{"field":"lab"}}},
{"data":{"name":"risk"},"transform":[{"filter":"datum.p=='B' && datum.r==1 && datum.t==0"}],"mark":{"type":"text","align":"left","baseline":"middle","fontSize":6.8,"dx":-1,"color":"#333333"},"encoding":{"x":{"field":"t","type":"quantitative","axis":{"values":[0,6,12,18,24,30],"title":"Months"}},"y":{"datum":-22.7,"type":"quantitative","axis":{"values":[0,50,100],"title":"Percent of Overall Survival"}},"text":{"field":"v"}}},
{"data":{"name":"risk"},"transform":[{"filter":"datum.p=='B' && datum.r==2 && datum.t==0"}],"mark":{"type":"text","align":"left","baseline":"middle","fontSize":6.8,"dx":-1,"color":"#333333"},"encoding":{"x":{"field":"t","type":"quantitative","axis":{"values":[0,6,12,18,24,30],"title":"Months"}},"y":{"datum":-30.5,"type":"quantitative","axis":{"values":[0,50,100],"title":"Percent of Overall Survival"}},"text":{"field":"v"}}},
{"data":{"name":"risk"},"transform":[{"filter":"datum.p=='B' && datum.r==1 && datum.t>0"}],"mark":{"type":"text","align":"center","baseline":"middle","fontSize":6.8,"dx":-2,"color":"#333333"},"encoding":{"x":{"field":"t","type":"quantitative","axis":{"values":[0,6,12,18,24,30],"title":"Months"}},"y":{"datum":-22.7,"type":"quantitative","axis":{"values":[0,50,100],"title":"Percent of Overall Survival"}},"text":{"field":"v"}}},
{"data":{"name":"risk"},"transform":[{"filter":"datum.p=='B' && datum.r==2 && datum.t>0"}],"mark":{"type":"text","align":"center","baseline":"middle","fontSize":6.8,"dx":-2,"color":"#333333"},"encoding":{"x":{"field":"t","type":"quantitative","axis":{"values":[0,6,12,18,24,30],"title":"Months"}},"y":{"datum":-30.5,"type":"quantitative","axis":{"values":[0,50,100],"title":"Percent of Overall Survival"}},"text":{"field":"v"}}}
]},
{"width":252,"height":168,"layer":[
{"data":{"values":[{}]},"mark":{"type":"rule","strokeDash":[2,1.5],"color":"#555555","strokeWidth":1},"encoding":{"x":{"datum":15,"type":"quantitative","axis":{"values":[0,6,12,18,24,30],"title":"Months"}},"y":{"datum":0,"type":"quantitative","axis":{"values":[0,50,100],"title":"Percent of Disease-free Survival"}},"y2":{"datum":110}}},
{"data":{"name":"curves"},"transform":[{"filter":"datum.p=='C'"}],"mark":{"type":"line","interpolate":"step-after","strokeWidth":1.5},"encoding":{"x":{"field":"t","type":"quantitative","scale":{"domain":[0,30],"nice":false,"zero":false},"axis":{"values":[0,6,12,18,24,30],"title":"Months"}},"y":{"field":"s","type":"quantitative","scale":{"domain":[0,110],"nice":false,"zero":false},"axis":{"values":[0,50,100],"title":"Percent of Disease-free Survival"}},"color":{"field":"g","type":"nominal","scale":{"domain":["CTC with PD-L1(-)","CTC with PD-L1(+)"],"range":["#a8232c","#44d8c4"]},"legend":{"title":null,"orient":"none","legendX":161,"legendY":138}}}},
{"data":{"name":"censors"},"transform":[{"filter":"datum.p=='C'"}],"mark":{"type":"point","shape":"M0,-1L0,1","size":12,"strokeWidth":1,"filled":false},"encoding":{"x":{"field":"t","type":"quantitative","axis":{"values":[0,6,12,18,24,30],"title":"Months"}},"y":{"field":"s","type":"quantitative","axis":{"values":[0,50,100],"title":"Percent of Disease-free Survival"}},"stroke":{"field":"g","type":"nominal","scale":{"domain":["CTC with PD-L1(-)","CTC with PD-L1(+)"],"range":["#5a3da0","#3052c4"]},"legend":null}}},
{"data":{"values":[{"lt":"C","hr":"HR=0.29(95%CI=0.12-0.70)","pv":"=0.0121","nt":"All patients was EGFR(-) and ALK(-)"}]},"mark":{"type":"text","align":"left","baseline":"middle","fontSize":13,"fontWeight":"bold","color":"#111111"},"encoding":{"x":{"datum":-5.5,"type":"quantitative","axis":{"values":[0,6,12,18,24,30],"title":"Months"}},"y":{"datum":104,"type":"quantitative","axis":{"values":[0,50,100],"title":"Percent of Disease-free Survival"}},"text":{"field":"lt"}}},
{"data":{"values":[{"lt":"C","hr":"HR=0.29(95%CI=0.12-0.70)","pv":"=0.0121","nt":"All patients was EGFR(-) and ALK(-)"}]},"mark":{"type":"text","align":"left","baseline":"middle","fontSize":7.2,"fontWeight":"bold","color":"#222222"},"encoding":{"x":{"datum":15.8,"type":"quantitative","axis":{"values":[0,6,12,18,24,30],"title":"Months"}},"y":{"datum":101,"type":"quantitative","axis":{"values":[0,50,100],"title":"Percent of Disease-free Survival"}},"text":{"field":"nt"}}},
{"data":{"values":[{"lt":"C","hr":"HR=0.29(95%CI=0.12-0.70)","pv":"=0.0121","nt":"All patients was EGFR(-) and ALK(-)"}]},"mark":{"type":"text","align":"left","baseline":"middle","fontSize":7.2,"fontWeight":"bold","color":"#222222"},"encoding":{"x":{"datum":3.9,"type":"quantitative","axis":{"values":[0,6,12,18,24,30],"title":"Months"}},"y":{"datum":36.5,"type":"quantitative","axis":{"values":[0,50,100],"title":"Percent of Disease-free Survival"}},"text":{"field":"hr"}}},
{"data":{"values":[{}]},"mark":{"type":"text","text":"P","align":"left","baseline":"middle","fontSize":7.2,"fontWeight":"bold","fontStyle":"italic","color":"#222222"},"encoding":{"x":{"datum":3.9,"type":"quantitative","axis":{"values":[0,6,12,18,24,30],"title":"Months"}},"y":{"datum":30.8,"type":"quantitative","axis":{"values":[0,50,100],"title":"Percent of Disease-free Survival"}}}},
{"data":{"values":[{"lt":"C","hr":"HR=0.29(95%CI=0.12-0.70)","pv":"=0.0121","nt":"All patients was EGFR(-) and ALK(-)"}]},"mark":{"type":"text","align":"left","baseline":"middle","fontSize":7.2,"fontWeight":"bold","dx":7,"color":"#222222"},"encoding":{"x":{"datum":3.9,"type":"quantitative","axis":{"values":[0,6,12,18,24,30],"title":"Months"}},"y":{"datum":30.8,"type":"quantitative","axis":{"values":[0,50,100],"title":"Percent of Disease-free Survival"}},"text":{"field":"pv"}}},
{"data":{"values":[{}]},"mark":{"type":"text","text":"Number at risk","align":"left","baseline":"middle","fontSize":8.5,"fontWeight":"bold","color":"#111111"},"encoding":{"x":{"datum":-8.25,"type":"quantitative","axis":{"values":[0,6,12,18,24,30],"title":"Months"}},"y":{"datum":-15.5,"type":"quantitative","axis":{"values":[0,50,100],"title":"Percent of Disease-free Survival"}}}},
{"data":{"name":"risk"},"transform":[{"filter":"datum.p=='C' && datum.r==1 && datum.t==0"}],"mark":{"type":"text","align":"left","baseline":"middle","fontSize":7.8,"fontWeight":"bold","color":"#111111"},"encoding":{"x":{"datum":-8.25,"type":"quantitative","axis":{"values":[0,6,12,18,24,30],"title":"Months"}},"y":{"datum":-22.7,"type":"quantitative","axis":{"values":[0,50,100],"title":"Percent of Disease-free Survival"}},"text":{"field":"lab"}}},
{"data":{"name":"risk"},"transform":[{"filter":"datum.p=='C' && datum.r==2 && datum.t==0"}],"mark":{"type":"text","align":"left","baseline":"middle","fontSize":7.8,"fontWeight":"bold","color":"#111111"},"encoding":{"x":{"datum":-8.25,"type":"quantitative","axis":{"values":[0,6,12,18,24,30],"title":"Months"}},"y":{"datum":-30.5,"type":"quantitative","axis":{"values":[0,50,100],"title":"Percent of Disease-free Survival"}},"text":{"field":"lab"}}},
{"data":{"name":"risk"},"transform":[{"filter":"datum.p=='C' && datum.r==1 && datum.t==0"}],"mark":{"type":"text","align":"left","baseline":"middle","fontSize":6.8,"dx":-1,"color":"#333333"},"encoding":{"x":{"field":"t","type":"quantitative","axis":{"values":[0,6,12,18,24,30],"title":"Months"}},"y":{"datum":-22.7,"type":"quantitative","axis":{"values":[0,50,100],"title":"Percent of Disease-free Survival"}},"text":{"field":"v"}}},
{"data":{"name":"risk"},"transform":[{"filter":"datum.p=='C' && datum.r==2 && datum.t==0"}],"mark":{"type":"text","align":"left","baseline":"middle","fontSize":6.8,"dx":-1,"color":"#333333"},"encoding":{"x":{"field":"t","type":"quantitative","axis":{"values":[0,6,12,18,24,30],"title":"Months"}},"y":{"datum":-30.5,"type":"quantitative","axis":{"values":[0,50,100],"title":"Percent of Disease-free Survival"}},"text":{"field":"v"}}},
{"data":{"name":"risk"},"transform":[{"filter":"datum.p=='C' && datum.r==1 && datum.t>0"}],"mark":{"type":"text","align":"center","baseline":"middle","fontSize":6.8,"dx":-2,"color":"#333333"},"encoding":{"x":{"field":"t","type":"quantitative","axis":{"values":[0,6,12,18,24,30],"title":"Months"}},"y":{"datum":-22.7,"type":"quantitative","axis":{"values":[0,50,100],"title":"Percent of Disease-free Survival"}},"text":{"field":"v"}}},
{"data":{"name":"risk"},"transform":[{"filter":"datum.p=='C' && datum.r==2 && datum.t>0"}],"mark":{"type":"text","align":"center","baseline":"middle","fontSize":6.8,"dx":-2,"color":"#333333"},"encoding":{"x":{"field":"t","type":"quantitative","axis":{"values":[0,6,12,18,24,30],"title":"Months"}},"y":{"datum":-30.5,"type":"quantitative","axis":{"values":[0,50,100],"title":"Percent of Disease-free Survival"}},"text":{"field":"v"}}}
]},
{"width":252,"height":168,"layer":[
{"data":{"values":[{}]},"mark":{"type":"rule","strokeDash":[2,1.5],"color":"#555555","strokeWidth":1},"encoding":{"x":{"datum":15,"type":"quantitative","axis":{"values":[0,6,12,18,24,30],"title":"Months"}},"y":{"datum":0,"type":"quantitative","axis":{"values":[0,50,100],"title":"Percent of Overall Survival"}},"y2":{"datum":110}}},
{"data":{"name":"curves"},"transform":[{"filter":"datum.p=='D'"}],"mark":{"type":"line","interpolate":"step-after","strokeWidth":1.5},"encoding":{"x":{"field":"t","type":"quantitative","scale":{"domain":[0,30],"nice":false,"zero":false},"axis":{"values":[0,6,12,18,24,30],"title":"Months"}},"y":{"field":"s","type":"quantitative","scale":{"domain":[0,110],"nice":false,"zero":false},"axis":{"values":[0,50,100],"title":"Percent of Overall Survival"}},"color":{"field":"g","type":"nominal","scale":{"domain":["CTC with PD-L1(-)","CTC with PD-L1(+)"],"range":["#a8232c","#44d8c4"]},"legend":{"title":null,"orient":"none","legendX":161,"legendY":140}}}},
{"data":{"name":"censors"},"transform":[{"filter":"datum.p=='D'"}],"mark":{"type":"point","shape":"M0,-1L0,1","size":12,"strokeWidth":1,"filled":false},"encoding":{"x":{"field":"t","type":"quantitative","axis":{"values":[0,6,12,18,24,30],"title":"Months"}},"y":{"field":"s","type":"quantitative","axis":{"values":[0,50,100],"title":"Percent of Overall Survival"}},"stroke":{"field":"g","type":"nominal","scale":{"domain":["CTC with PD-L1(-)","CTC with PD-L1(+)"],"range":["#5a3da0","#3052c4"]},"legend":null}}},
{"data":{"values":[{"lt":"D","hr":"HR=0.26(95%CI=0.07-0.91)","pv":"=0.0350","nt":"All patients was EGFR(-) and ALK(-)"}]},"mark":{"type":"text","align":"left","baseline":"middle","fontSize":13,"fontWeight":"bold","color":"#111111"},"encoding":{"x":{"datum":-5.0,"type":"quantitative","axis":{"values":[0,6,12,18,24,30],"title":"Months"}},"y":{"datum":103,"type":"quantitative","axis":{"values":[0,50,100],"title":"Percent of Overall Survival"}},"text":{"field":"lt"}}},
{"data":{"values":[{"lt":"D","hr":"HR=0.26(95%CI=0.07-0.91)","pv":"=0.0350","nt":"All patients was EGFR(-) and ALK(-)"}]},"mark":{"type":"text","align":"left","baseline":"middle","fontSize":7.2,"fontWeight":"bold","color":"#222222"},"encoding":{"x":{"datum":15.6,"type":"quantitative","axis":{"values":[0,6,12,18,24,30],"title":"Months"}},"y":{"datum":101,"type":"quantitative","axis":{"values":[0,50,100],"title":"Percent of Overall Survival"}},"text":{"field":"nt"}}},
{"data":{"values":[{"lt":"D","hr":"HR=0.26(95%CI=0.07-0.91)","pv":"=0.0350","nt":"All patients was EGFR(-) and ALK(-)"}]},"mark":{"type":"text","align":"left","baseline":"middle","fontSize":7.2,"fontWeight":"bold","color":"#222222"},"encoding":{"x":{"datum":3.9,"type":"quantitative","axis":{"values":[0,6,12,18,24,30],"title":"Months"}},"y":{"datum":36,"type":"quantitative","axis":{"values":[0,50,100],"title":"Percent of Overall Survival"}},"text":{"field":"hr"}}},
{"data":{"values":[{}]},"mark":{"type":"text","text":"P","align":"left","baseline":"middle","fontSize":7.2,"fontWeight":"bold","fontStyle":"italic","color":"#222222"},"encoding":{"x":{"datum":3.9,"type":"quantitative","axis":{"values":[0,6,12,18,24,30],"title":"Months"}},"y":{"datum":30.3,"type":"quantitative","axis":{"values":[0,50,100],"title":"Percent of Overall Survival"}}}},
{"data":{"values":[{"lt":"D","hr":"HR=0.26(95%CI=0.07-0.91)","pv":"=0.0350","nt":"All patients was EGFR(-) and ALK(-)"}]},"mark":{"type":"text","align":"left","baseline":"middle","fontSize":7.2,"fontWeight":"bold","dx":7,"color":"#222222"},"encoding":{"x":{"datum":3.9,"type":"quantitative","axis":{"values":[0,6,12,18,24,30],"title":"Months"}},"y":{"datum":30.3,"type":"quantitative","axis":{"values":[0,50,100],"title":"Percent of Overall Survival"}},"text":{"field":"pv"}}},
{"data":{"values":[{}]},"mark":{"type":"text","text":"Number at risk","align":"left","baseline":"middle","fontSize":8.5,"fontWeight":"bold","color":"#111111"},"encoding":{"x":{"datum":-8.25,"type":"quantitative","axis":{"values":[0,6,12,18,24,30],"title":"Months"}},"y":{"datum":-15.5,"type":"quantitative","axis":{"values":[0,50,100],"title":"Percent of Overall Survival"}}}},
{"data":{"name":"risk"},"transform":[{"filter":"datum.p=='D' && datum.r==1 && datum.t==0"}],"mark":{"type":"text","align":"left","baseline":"middle","fontSize":7.8,"fontWeight":"bold","color":"#111111"},"encoding":{"x":{"datum":-8.25,"type":"quantitative","axis":{"values":[0,6,12,18,24,30],"title":"Months"}},"y":{"datum":-22.7,"type":"quantitative","axis":{"values":[0,50,100],"title":"Percent of Overall Survival"}},"text":{"field":"lab"}}},
{"data":{"name":"risk"},"transform":[{"filter":"datum.p=='D' && datum.r==2 && datum.t==0"}],"mark":{"type":"text","align":"left","baseline":"middle","fontSize":7.8,"fontWeight":"bold","color":"#111111"},"encoding":{"x":{"datum":-8.25,"type":"quantitative","axis":{"values":[0,6,12,18,24,30],"title":"Months"}},"y":{"datum":-30.5,"type":"quantitative","axis":{"values":[0,50,100],"title":"Percent of Overall Survival"}},"text":{"field":"lab"}}},
{"data":{"name":"risk"},"transform":[{"filter":"datum.p=='D' && datum.r==1 && datum.t==0"}],"mark":{"type":"text","align":"left","baseline":"middle","fontSize":6.8,"dx":-1,"color":"#333333"},"encoding":{"x":{"field":"t","type":"quantitative","axis":{"values":[0,6,12,18,24,30],"title":"Months"}},"y":{"datum":-22.7,"type":"quantitative","axis":{"values":[0,50,100],"title":"Percent of Overall Survival"}},"text":{"field":"v"}}},
{"data":{"name":"risk"},"transform":[{"filter":"datum.p=='D' && datum.r==2 && datum.t==0"}],"mark":{"type":"text","align":"left","baseline":"middle","fontSize":6.8,"dx":-1,"color":"#333333"},"encoding":{"x":{"field":"t","type":"quantitative","axis":{"values":[0,6,12,18,24,30],"title":"Months"}},"y":{"datum":-30.5,"type":"quantitative","axis":{"values":[0,50,100],"title":"Percent of Overall Survival"}},"text":{"field":"v"}}},
{"data":{"name":"risk"},"transform":[{"filter":"datum.p=='D' && datum.r==1 && datum.t>0"}],"mark":{"type":"text","align":"center","baseline":"middle","fontSize":6.8,"dx":-2,"color":"#333333"},"encoding":{"x":{"field":"t","type":"quantitative","axis":{"values":[0,6,12,18,24,30],"title":"Months"}},"y":{"datum":-22.7,"type":"quantitative","axis":{"values":[0,50,100],"title":"Percent of Overall Survival"}},"text":{"field":"v"}}},
{"data":{"name":"risk"},"transform":[{"filter":"datum.p=='D' && datum.r==2 && datum.t>0"}],"mark":{"type":"text","align":"center","baseline":"middle","fontSize":6.8,"dx":-2,"color":"#333333"},"encoding":{"x":{"field":"t","type":"quantitative","axis":{"values":[0,6,12,18,24,30],"title":"Months"}},"y":{"datum":-30.5,"type":"quantitative","axis":{"values":[0,50,100],"title":"Percent of Overall Survival"}},"text":{"field":"v"}}}
]},
{"width":252,"height":168,"layer":[
{"data":{"values":[{}]},"mark":{"type":"rule","strokeDash":[2,1.5],"color":"#555555","strokeWidth":1},"encoding":{"x":{"datum":15,"type":"quantitative","axis":{"values":[0,6,12,18,24,30],"title":"Months"}},"y":{"datum":0,"type":"quantitative","axis":{"values":[0,50,100],"title":"Percent of Disease-free Survival"}},"y2":{"datum":110}}},
{"data":{"name":"curves"},"transform":[{"filter":"datum.p=='E'"}],"mark":{"type":"line","interpolate":"step-after","strokeWidth":1.5},"encoding":{"x":{"field":"t","type":"quantitative","scale":{"domain":[0,30],"nice":false,"zero":false},"axis":{"values":[0,6,12,18,24,30],"title":"Months"}},"y":{"field":"s","type":"quantitative","scale":{"domain":[0,110],"nice":false,"zero":false},"axis":{"values":[0,50,100],"title":"Percent of Disease-free Survival"}},"color":{"field":"g","type":"nominal","scale":{"domain":["Stage I-II","Stage III"],"range":["#a8232c","#44d8c4"]},"legend":{"title":null,"orient":"none","legendX":168,"legendY":140}}}},
{"data":{"name":"censors"},"transform":[{"filter":"datum.p=='E'"}],"mark":{"type":"point","shape":"M0,-1L0,1","size":12,"strokeWidth":1,"filled":false},"encoding":{"x":{"field":"t","type":"quantitative","axis":{"values":[0,6,12,18,24,30],"title":"Months"}},"y":{"field":"s","type":"quantitative","axis":{"values":[0,50,100],"title":"Percent of Disease-free Survival"}},"stroke":{"field":"g","type":"nominal","scale":{"domain":["Stage I-II","Stage III"],"range":["#5a3da0","#3052c4"]},"legend":null}}},
{"data":{"values":[{"lt":"E","hr":"HR=0.19(95%CI=0.10-0.37)","pv":"<0.001"}]},"mark":{"type":"text","align":"left","baseline":"middle","fontSize":13,"fontWeight":"bold","color":"#111111"},"encoding":{"x":{"datum":-5.5,"type":"quantitative","axis":{"values":[0,6,12,18,24,30],"title":"Months"}},"y":{"datum":102.6,"type":"quantitative","axis":{"values":[0,50,100],"title":"Percent of Disease-free Survival"}},"text":{"field":"lt"}}},
{"data":{"values":[{"lt":"E","hr":"HR=0.19(95%CI=0.10-0.37)","pv":"<0.001"}]},"mark":{"type":"text","align":"left","baseline":"middle","fontSize":7.2,"fontWeight":"bold","color":"#222222"},"encoding":{"x":{"datum":3.9,"type":"quantitative","axis":{"values":[0,6,12,18,24,30],"title":"Months"}},"y":{"datum":35.5,"type":"quantitative","axis":{"values":[0,50,100],"title":"Percent of Disease-free Survival"}},"text":{"field":"hr"}}},
{"data":{"values":[{}]},"mark":{"type":"text","text":"P","align":"left","baseline":"middle","fontSize":7.2,"fontWeight":"bold","fontStyle":"italic","color":"#222222"},"encoding":{"x":{"datum":3.9,"type":"quantitative","axis":{"values":[0,6,12,18,24,30],"title":"Months"}},"y":{"datum":30,"type":"quantitative","axis":{"values":[0,50,100],"title":"Percent of Disease-free Survival"}}}},
{"data":{"values":[{"lt":"E","hr":"HR=0.19(95%CI=0.10-0.37)","pv":"<0.001"}]},"mark":{"type":"text","align":"left","baseline":"middle","fontSize":7.2,"fontWeight":"bold","dx":7,"color":"#222222"},"encoding":{"x":{"datum":3.9,"type":"quantitative","axis":{"values":[0,6,12,18,24,30],"title":"Months"}},"y":{"datum":30,"type":"quantitative","axis":{"values":[0,50,100],"title":"Percent of Disease-free Survival"}},"text":{"field":"pv"}}},
{"data":{"values":[{}]},"mark":{"type":"text","text":"Number at risk","align":"left","baseline":"middle","fontSize":8.5,"fontWeight":"bold","color":"#111111"},"encoding":{"x":{"datum":-8.4,"type":"quantitative","axis":{"values":[0,6,12,18,24,30],"title":"Months"}},"y":{"datum":-15.5,"type":"quantitative","axis":{"values":[0,50,100],"title":"Percent of Disease-free Survival"}}}},
{"data":{"name":"risk"},"transform":[{"filter":"datum.p=='E' && datum.r==1 && datum.t==0"}],"mark":{"type":"text","align":"right","baseline":"middle","fontSize":7.8,"fontWeight":"bold","dx":-4,"color":"#111111"},"encoding":{"x":{"datum":0,"type":"quantitative","axis":{"values":[0,6,12,18,24,30],"title":"Months"}},"y":{"datum":-22.7,"type":"quantitative","axis":{"values":[0,50,100],"title":"Percent of Disease-free Survival"}},"text":{"field":"lab"}}},
{"data":{"name":"risk"},"transform":[{"filter":"datum.p=='E' && datum.r==2 && datum.t==0"}],"mark":{"type":"text","align":"right","baseline":"middle","fontSize":7.8,"fontWeight":"bold","dx":-4,"color":"#111111"},"encoding":{"x":{"datum":0,"type":"quantitative","axis":{"values":[0,6,12,18,24,30],"title":"Months"}},"y":{"datum":-30.5,"type":"quantitative","axis":{"values":[0,50,100],"title":"Percent of Disease-free Survival"}},"text":{"field":"lab"}}},
{"data":{"name":"risk"},"transform":[{"filter":"datum.p=='E' && datum.r==1 && datum.t==0"}],"mark":{"type":"text","align":"left","baseline":"middle","fontSize":6.8,"dx":-2,"color":"#333333"},"encoding":{"x":{"field":"t","type":"quantitative","axis":{"values":[0,6,12,18,24,30],"title":"Months"}},"y":{"datum":-22.7,"type":"quantitative","axis":{"values":[0,50,100],"title":"Percent of Disease-free Survival"}},"text":{"field":"v"}}},
{"data":{"name":"risk"},"transform":[{"filter":"datum.p=='E' && datum.r==2 && datum.t==0"}],"mark":{"type":"text","align":"left","baseline":"middle","fontSize":6.8,"dx":-2,"color":"#333333"},"encoding":{"x":{"field":"t","type":"quantitative","axis":{"values":[0,6,12,18,24,30],"title":"Months"}},"y":{"datum":-30.5,"type":"quantitative","axis":{"values":[0,50,100],"title":"Percent of Disease-free Survival"}},"text":{"field":"v"}}},
{"data":{"name":"risk"},"transform":[{"filter":"datum.p=='E' && datum.r==1 && datum.t>0"}],"mark":{"type":"text","align":"center","baseline":"middle","fontSize":6.8,"dx":-2,"color":"#333333"},"encoding":{"x":{"field":"t","type":"quantitative","axis":{"values":[0,6,12,18,24,30],"title":"Months"}},"y":{"datum":-22.7,"type":"quantitative","axis":{"values":[0,50,100],"title":"Percent of Disease-free Survival"}},"text":{"field":"v"}}},
{"data":{"name":"risk"},"transform":[{"filter":"datum.p=='E' && datum.r==2 && datum.t>0"}],"mark":{"type":"text","align":"center","baseline":"middle","fontSize":6.8,"dx":-2,"color":"#333333"},"encoding":{"x":{"field":"t","type":"quantitative","axis":{"values":[0,6,12,18,24,30],"title":"Months"}},"y":{"datum":-30.5,"type":"quantitative","axis":{"values":[0,50,100],"title":"Percent of Disease-free Survival"}},"text":{"field":"v"}}}
]},
{"width":252,"height":168,"layer":[
{"data":{"values":[{}]},"mark":{"type":"rule","strokeDash":[2,1.5],"color":"#555555","strokeWidth":1},"encoding":{"x":{"datum":15,"type":"quantitative","axis":{"values":[0,6,12,18,24,30],"title":"Months"}},"y":{"datum":0,"type":"quantitative","axis":{"values":[0,50,100],"title":"Percent of Overall Survival"}},"y2":{"datum":110}}},
{"data":{"name":"curves"},"transform":[{"filter":"datum.p=='F'"}],"mark":{"type":"line","interpolate":"step-after","strokeWidth":1.5},"encoding":{"x":{"field":"t","type":"quantitative","scale":{"domain":[0,30],"nice":false,"zero":false},"axis":{"values":[0,6,12,18,24,30],"title":"Months"}},"y":{"field":"s","type":"quantitative","scale":{"domain":[0,110],"nice":false,"zero":false},"axis":{"values":[0,50,100],"title":"Percent of Overall Survival"}},"color":{"field":"g","type":"nominal","scale":{"domain":["Stage I-II","Stage III"],"range":["#a8232c","#44d8c4"]},"legend":{"title":null,"orient":"none","legendX":169,"legendY":140}}}},
{"data":{"name":"censors"},"transform":[{"filter":"datum.p=='F'"}],"mark":{"type":"point","shape":"M0,-1L0,1","size":12,"strokeWidth":1,"filled":false},"encoding":{"x":{"field":"t","type":"quantitative","axis":{"values":[0,6,12,18,24,30],"title":"Months"}},"y":{"field":"s","type":"quantitative","axis":{"values":[0,50,100],"title":"Percent of Overall Survival"}},"stroke":{"field":"g","type":"nominal","scale":{"domain":["Stage I-II","Stage III"],"range":["#5a3da0","#3052c4"]},"legend":null}}},
{"data":{"values":[{"lt":"F","hr":"HR=0.15(95%CI=0.06-0.39)","pv":"=0.0034"}]},"mark":{"type":"text","align":"left","baseline":"middle","fontSize":13,"fontWeight":"bold","color":"#111111"},"encoding":{"x":{"datum":-4.9,"type":"quantitative","axis":{"values":[0,6,12,18,24,30],"title":"Months"}},"y":{"datum":102,"type":"quantitative","axis":{"values":[0,50,100],"title":"Percent of Overall Survival"}},"text":{"field":"lt"}}},
{"data":{"values":[{"lt":"F","hr":"HR=0.15(95%CI=0.06-0.39)","pv":"=0.0034"}]},"mark":{"type":"text","align":"left","baseline":"middle","fontSize":7.2,"fontWeight":"bold","color":"#222222"},"encoding":{"x":{"datum":3.6,"type":"quantitative","axis":{"values":[0,6,12,18,24,30],"title":"Months"}},"y":{"datum":35.3,"type":"quantitative","axis":{"values":[0,50,100],"title":"Percent of Overall Survival"}},"text":{"field":"hr"}}},
{"data":{"values":[{}]},"mark":{"type":"text","text":"P","align":"left","baseline":"middle","fontSize":7.2,"fontWeight":"bold","fontStyle":"italic","color":"#222222"},"encoding":{"x":{"datum":3.6,"type":"quantitative","axis":{"values":[0,6,12,18,24,30],"title":"Months"}},"y":{"datum":30,"type":"quantitative","axis":{"values":[0,50,100],"title":"Percent of Overall Survival"}}}},
{"data":{"values":[{"lt":"F","hr":"HR=0.15(95%CI=0.06-0.39)","pv":"=0.0034"}]},"mark":{"type":"text","align":"left","baseline":"middle","fontSize":7.2,"fontWeight":"bold","dx":7,"color":"#222222"},"encoding":{"x":{"datum":3.6,"type":"quantitative","axis":{"values":[0,6,12,18,24,30],"title":"Months"}},"y":{"datum":30,"type":"quantitative","axis":{"values":[0,50,100],"title":"Percent of Overall Survival"}},"text":{"field":"pv"}}},
{"data":{"values":[{}]},"mark":{"type":"text","text":"Number at risk","align":"left","baseline":"middle","fontSize":8.5,"fontWeight":"bold","color":"#111111"},"encoding":{"x":{"datum":-8.2,"type":"quantitative","axis":{"values":[0,6,12,18,24,30],"title":"Months"}},"y":{"datum":-15.5,"type":"quantitative","axis":{"values":[0,50,100],"title":"Percent of Overall Survival"}}}},
{"data":{"name":"risk"},"transform":[{"filter":"datum.p=='F' && datum.r==1 && datum.t==0"}],"mark":{"type":"text","align":"right","baseline":"middle","fontSize":7.8,"fontWeight":"bold","dx":-4,"color":"#111111"},"encoding":{"x":{"datum":0,"type":"quantitative","axis":{"values":[0,6,12,18,24,30],"title":"Months"}},"y":{"datum":-22.7,"type":"quantitative","axis":{"values":[0,50,100],"title":"Percent of Overall Survival"}},"text":{"field":"lab"}}},
{"data":{"name":"risk"},"transform":[{"filter":"datum.p=='F' && datum.r==2 && datum.t==0"}],"mark":{"type":"text","align":"right","baseline":"middle","fontSize":7.8,"fontWeight":"bold","dx":-4,"color":"#111111"},"encoding":{"x":{"datum":0,"type":"quantitative","axis":{"values":[0,6,12,18,24,30],"title":"Months"}},"y":{"datum":-30.5,"type":"quantitative","axis":{"values":[0,50,100],"title":"Percent of Overall Survival"}},"text":{"field":"lab"}}},
{"data":{"name":"risk"},"transform":[{"filter":"datum.p=='F' && datum.r==1 && datum.t==0"}],"mark":{"type":"text","align":"left","baseline":"middle","fontSize":6.8,"dx":-1,"color":"#333333"},"encoding":{"x":{"field":"t","type":"quantitative","axis":{"values":[0,6,12,18,24,30],"title":"Months"}},"y":{"datum":-22.7,"type":"quantitative","axis":{"values":[0,50,100],"title":"Percent of Overall Survival"}},"text":{"field":"v"}}},
{"data":{"name":"risk"},"transform":[{"filter":"datum.p=='F' && datum.r==2 && datum.t==0"}],"mark":{"type":"text","align":"left","baseline":"middle","fontSize":6.8,"dx":-1,"color":"#333333"},"encoding":{"x":{"field":"t","type":"quantitative","axis":{"values":[0,6,12,18,24,30],"title":"Months"}},"y":{"datum":-30.5,"type":"quantitative","axis":{"values":[0,50,100],"title":"Percent of Overall Survival"}},"text":{"field":"v"}}},
{"data":{"name":"risk"},"transform":[{"filter":"datum.p=='F' && datum.r==1 && datum.t>0"}],"mark":{"type":"text","align":"center","baseline":"middle","fontSize":6.8,"dx":-2,"color":"#333333"},"encoding":{"x":{"field":"t","type":"quantitative","axis":{"values":[0,6,12,18,24,30],"title":"Months"}},"y":{"datum":-22.7,"type":"quantitative","axis":{"values":[0,50,100],"title":"Percent of Overall Survival"}},"text":{"field":"v"}}},
{"data":{"name":"risk"},"transform":[{"filter":"datum.p=='F' && datum.r==2 && datum.t>0"}],"mark":{"type":"text","align":"center","baseline":"middle","fontSize":6.8,"dx":-2,"color":"#333333"},"encoding":{"x":{"field":"t","type":"quantitative","axis":{"values":[0,6,12,18,24,30],"title":"Months"}},"y":{"datum":-30.5,"type":"quantitative","axis":{"values":[0,50,100],"title":"Percent of Overall Survival"}},"text":{"field":"v"}}}
]}
],
"config": {
"font": "Liberation Sans",
"view": {"stroke": null},
"axis": {"domainColor": "#4d4d4d", "domainWidth": 1.6, "tickColor": "#4d4d4d", "tickWidth": 1.3, "tickSize": 3, "labelFont": "Liberation Sans", "labelFontSize": 6.5, "labelFontWeight": "bold", "labelColor": "#222222", "labelPadding": 1, "labelFlush": false, "titleFont": "Liberation Sans", "titleFontSize": 7, "titleFontWeight": "bold", "titleColor": "#222222", "grid": false},
"axisX": {"titlePadding": 2},
"axisY": {"titlePadding": 3},
"legend": {"symbolType": "stroke", "symbolSize": 200, "symbolStrokeWidth": 1.5, "labelFont": "Liberation Sans", "labelFontSize": 6.8, "labelFontWeight": "bold", "labelColor": "#222222", "rowPadding": 0, "labelOffset": 3, "padding": 0},
"text": {"font": "Liberation Sans"}
}
}
